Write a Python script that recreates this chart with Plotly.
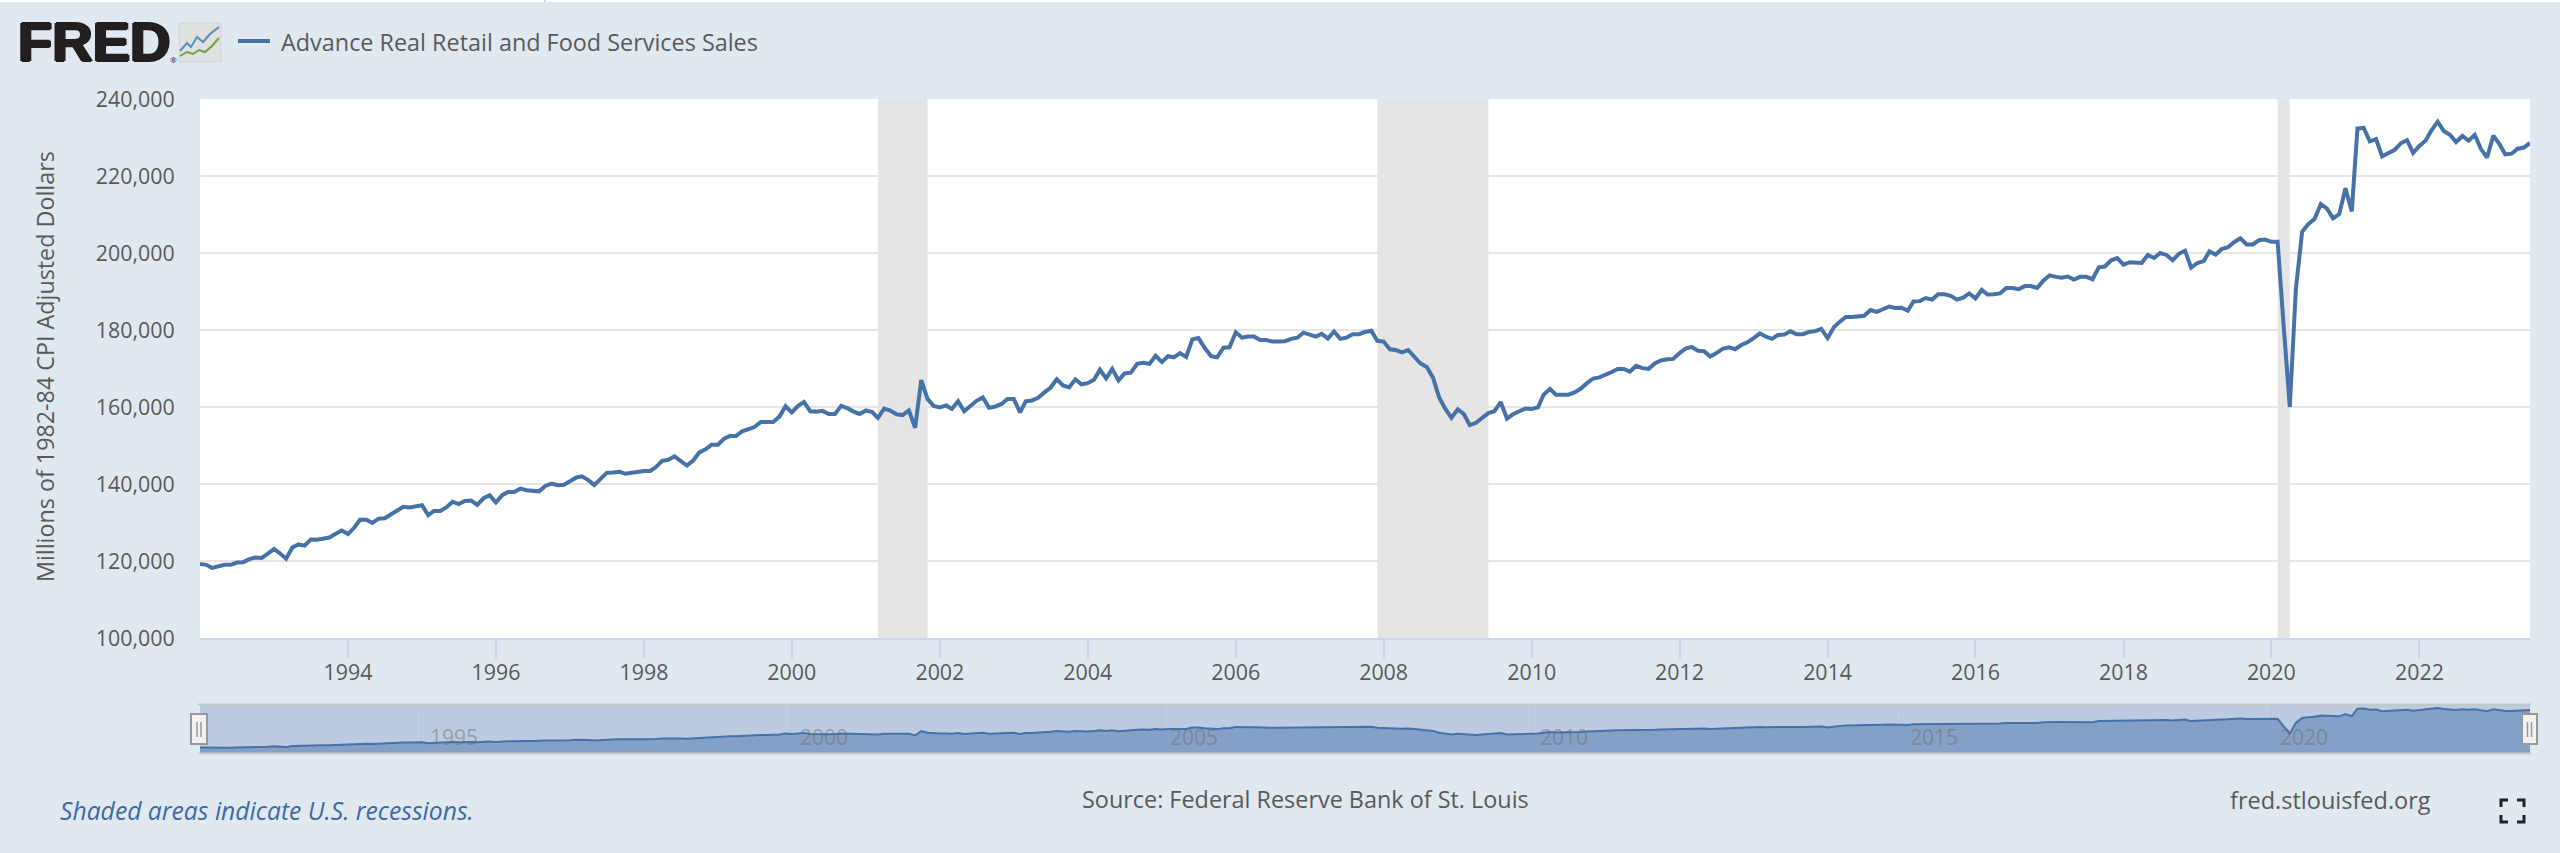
import pandas as pd
import plotly.graph_objects as go

W, H = 2560, 853

def px(x):
    return x / W

def py(y):
    return 1 - y / H

# Monthly values, millions of 1982-84 CPI adjusted dollars, thousands for brevity
sales_1992_1998 = [
    119.2, 119.0, 118.2, 118.6, 119.0, 119.0, 119.6, 119.7, 120.5, 120.9, 120.8, 121.9,
    123.1, 121.9, 120.6, 123.5, 124.3, 124.0, 125.6, 125.5, 125.9, 126.1, 127.1, 127.9,
    127.0, 128.7, 130.7, 130.7, 129.9, 131.0, 131.1, 132.2, 133.1, 134.1, 133.9, 134.3,
    134.5, 131.9, 133.0, 133.0, 133.9, 135.4, 134.8, 135.6, 135.7, 134.6, 136.3, 137.1,
    135.2, 137.1, 137.9, 137.9, 138.8, 138.4, 138.3, 138.1, 139.5, 140.1, 139.7, 139.8,
    140.7, 141.7, 142.0, 141.0, 139.7, 141.4, 142.9, 143.0, 143.2, 142.7, 142.9, 143.3,
    143.4, 143.4, 144.4, 146.0, 146.3, 147.2, 145.9, 144.8, 146.1, 148.2, 149.0, 150.2,
]
sales_1999_2005 = [
    150.2, 151.8, 152.5, 152.5, 153.7, 154.2, 154.8, 156.1, 156.1, 156.1, 157.5, 160.2,
    158.6, 160.3, 161.3, 158.9, 158.8, 159.0, 158.2, 158.2, 160.3, 159.7, 158.8, 158.2,
    159.1, 158.7, 157.2, 159.6, 159.1, 158.1, 157.9, 159.1, 154.6, 167.0, 162.1, 160.3,
    159.9, 160.4, 159.5, 161.5, 158.9, 160.2, 161.6, 162.5, 159.8, 160.1, 160.8, 162.1,
    162.1, 158.6, 161.5, 161.7, 162.4, 163.8, 165.0, 167.2, 165.6, 165.1, 167.2, 165.9,
    166.2, 167.1, 169.7, 167.4, 169.9, 166.9, 168.7, 168.9, 171.2, 171.5, 171.2, 173.3,
    171.7, 173.2, 172.9, 174.0, 173.0, 177.6, 177.9, 175.3, 173.2, 172.9, 175.4, 175.5,
]
sales_2006_2012 = [
    179.4, 178.0, 178.3, 178.3, 177.4, 177.4, 177.0, 177.0, 177.1, 177.7, 178.0, 179.3,
    178.9, 178.3, 179.0, 177.8, 179.6, 177.7, 178.0, 178.9, 178.9, 179.5, 179.8, 177.2,
    177.0, 175.0, 174.8, 174.2, 174.8, 173.1, 171.3, 170.4, 167.6, 162.5, 159.5, 157.2,
    159.4, 158.1, 155.3, 155.9, 157.1, 158.4, 158.9, 161.3, 157.0, 158.1, 158.9, 159.6,
    159.5, 159.9, 163.2, 164.7, 163.2, 163.1, 163.2, 163.8, 164.8, 166.2, 167.4, 167.7,
    168.3, 169.1, 169.9, 169.9, 169.2, 170.7, 170.1, 169.9, 171.3, 172.1, 172.4, 172.5,
    174.0, 175.2, 175.6, 174.6, 174.5, 173.1, 174.0, 175.1, 175.5, 175.0, 176.1, 176.8,
]
sales_2013_2019 = [
    177.9, 179.1, 178.3, 177.7, 178.7, 178.8, 179.7, 178.9, 178.9, 179.5, 179.7, 180.3,
    177.9, 180.7, 182.1, 183.4, 183.4, 183.6, 183.7, 185.2, 184.7, 185.4, 186.1, 185.7,
    185.8, 185.0, 187.4, 187.5, 188.3, 187.9, 189.3, 189.3, 188.9, 187.9, 188.4, 189.5,
    188.2, 190.4, 189.2, 189.3, 189.5, 190.9, 190.9, 190.6, 191.4, 191.4, 190.9, 192.8,
    194.2, 193.8, 193.6, 193.9, 193.1, 193.8, 193.8, 193.2, 196.3, 196.5, 198.1, 198.7,
    197.0, 197.6, 197.4, 197.4, 199.5, 198.7, 200.0, 199.5, 198.1, 199.8, 200.6, 196.2,
    197.4, 197.9, 200.4, 199.6, 201.0, 201.5, 202.8, 203.8, 202.2, 202.2, 203.3, 203.5,
]
sales_2020_2023 = [
    202.9, 202.9, 181.6, 160.0, 190.7, 205.5, 207.5, 208.8, 212.7, 211.6, 209.0, 210.1,
    216.8, 210.8, 232.3, 232.5, 229.0, 229.6, 225.1, 226.0, 226.8, 228.5, 229.3, 226.0,
    227.8, 229.2, 231.8, 234.1, 231.7, 230.7, 228.8, 230.4, 229.2, 230.7, 227.0, 224.8,
    230.5, 228.2, 225.6, 225.8, 227.1, 227.4, 228.6,
]
sales = [v * 1000 for v in sales_1992_1998 + sales_1999_2005 + sales_2006_2012 + sales_2013_2019 + sales_2020_2023]
dates = pd.date_range("1992-01-01", periods=len(sales), freq="MS")

recession_starts = ["2001-03-01", "2007-12-01", "2020-02-01"]
recession_ends = ["2001-11-01", "2009-06-01", "2020-04-01"]
y_ticks = [100000, 120000, 140000, 160000, 180000, 200000, 220000, 240000]
x_tick_years = ["1994", "1996", "1998", "2000", "2002", "2004", "2006", "2008",
                "2010", "2012", "2014", "2016", "2018", "2020", "2022"]
nav_years = ["1995", "2000", "2005", "2010", "2015", "2020"]
y_min, y_max = y_ticks[0], y_ticks[-1]
nav_min, nav_max = 103500, 243000

series_name = "Advance Real Retail and Food Services Sales"
y_title = "Millions of 1982-84 CPI Adjusted Dollars"

BG = "#e1e9f0"
LINE = "#4572a7"
TEXT = "#595959"
FONT = "Open Sans"

fig = go.Figure()
fig.add_trace(go.Scatter(x=dates, y=sales, mode="lines", name=series_name,
                         line=dict(color=LINE, width=4), xaxis="x", yaxis="y",
                         hovertemplate="%{x|%b %Y}: %{y:,.0f}<extra></extra>"))
fig.add_trace(go.Scatter(x=dates, y=sales, mode="lines", fill="tozeroy", fillcolor="#85a0c7",
                         line=dict(color=LINE, width=2), xaxis="x2", yaxis="y2", hoverinfo="skip"))

shapes = []

def paper_rect(x0, y0, x1, y1, fill, line=None, lw=0, layer="above"):
    shapes.append(dict(type="rect", xref="paper", yref="paper", x0=px(x0), x1=px(x1), y0=py(y0), y1=py(y1),
                       fillcolor=fill, line=dict(color=line or fill, width=lw), layer=layer))

def paper_path(points, color, lw):
    d = "M " + " L ".join(f"{px(x):.5f},{py(y):.5f}" for x, y in points)
    shapes.append(dict(type="path", xref="paper", yref="paper", path=d,
                       line=dict(color=color, width=lw), layer="above"))

# thin white strip at the very top of the page
paper_rect(0, 0, W, 2, "#ffffff")
paper_rect(544, 0, 546, 2, "#d9d9d9")

# recession bands
for a, b in zip(recession_starts, recession_ends):
    shapes.append(dict(type="rect", xref="x", yref="y", x0=a, x1=b, y0=y_min, y1=y_max,
                       fillcolor="#e5e5e5", line=dict(width=0), layer="between"))

# navigator background
shapes.append(dict(type="rect", xref="x2", yref="y2", x0=dates[0], x1=dates[-1], y0=nav_min, y1=nav_max,
                   fillcolor="#bccbe1", line=dict(width=0), layer="below"))
paper_path([(198, 704.5), (2531, 704.5)], "#c4c8cc", 2)
paper_path([(198, 753.5), (2531, 753.5)], "#c8cdd2", 2)

# navigator handles
for x0, x1 in [(191, 207), (2522, 2537)]:
    paper_rect(x0, 714, x1, 744, "#f2f2f2", "#999999", 2)
    mid = (x0 + x1) / 2
    paper_path([(mid - 2, 722), (mid - 2, 737)], "#999999", 1.5)
    paper_path([(mid + 2, 722), (mid + 2, 737)], "#999999", 1.5)

# legend key
paper_path([(238, 41), (270, 41)], LINE, 4)

# logo chart icon
shapes.append(dict(type="rect", xref="paper", yref="paper", x0=px(179), x1=px(221), y0=py(23), y1=py(62),
                   fillcolor="#dfe0e0", line=dict(color="#d3d5d6", width=1), layer="above"))
paper_path([(180, 51), (187, 43), (191, 47), (197, 37), (203, 42), (210, 34), (219, 27)], "#5a8fb5", 2)
paper_path([(180, 56), (187, 52), (193, 54), (199, 50), (205, 52), (212, 46), (219, 38)], "#6ea045", 2)

# full screen icon
for cx, cy, dx, dy in [(2501, 800, 1, 1), (2524, 800, -1, 1), (2501, 822, 1, -1), (2524, 822, -1, -1)]:
    paper_path([(cx + 7 * dx, cy), (cx, cy), (cx, cy + 7 * dy)], "#222222", 3)

def note(text, x, y, size=21, color=TEXT, anchor="left", angle=0, family=FONT, italic=False, bold=False, shadow=None):
    t = text
    if italic:
        t = f"<i>{t}</i>"
    if bold:
        t = f"<b>{t}</b>"
    font = dict(family=family, size=size, color=color)
    if shadow:
        font["shadow"] = shadow
    return dict(text=t, xref="paper", yref="paper", x=px(x), y=py(y), xanchor=anchor, yanchor="middle",
                showarrow=False, textangle=angle, font=font)

annotations = [
    note("FRED", 16, 42, size=56, color="#231f20", family="Liberation Sans", bold=True,
         shadow="1.5px 0 0 #231f20, -1.5px 0 0 #231f20, 0 1px 0 #231f20, 0 -1px 0 #231f20"),
    note("®", 168, 60, size=8, color="#231f20"),
    note(series_name, 279, 42, size=23.4),
    note(y_title, 45, 367, size=23.3, anchor="center", angle=-90),
    note("Shaded areas indicate U.S. recessions.", 58, 810, size=24.7, color="#3e6aa3", italic=True),
    note("Source: Federal Reserve Bank of St. Louis", 1305, 799, size=23.4, anchor="center"),
    note("fred.stlouisfed.org", 2228, 800, size=23.5),
]
for year in nav_years:
    annotations.append(dict(text=year, xref="x2", yref="paper", x=f"{year}-02-01", y=py(737), xanchor="left",
                            yanchor="middle", showarrow=False,
                            font=dict(family=FONT, size=21, color="rgba(110,110,110,0.5)")))

x_range = [dates[0], dates[-1]]

fig.update_layout(
    width=W, height=H, autosize=False,
    margin=dict(l=0, r=0, t=0, b=0, pad=0, autoexpand=False),
    paper_bgcolor=BG, plot_bgcolor="#ffffff",
    showlegend=False,
    font=dict(family=FONT, color=TEXT, size=21),
    shapes=shapes, annotations=annotations,
    xaxis=dict(domain=[px(200), px(2530)], anchor="y", type="date", range=x_range,
               tickvals=[f"{y}-01-01" for y in x_tick_years], ticktext=x_tick_years,
               ticks="outside", ticklen=18, tickwidth=2, ticklabelstandoff=-4,
               tickcolor="#ccd6eb", showgrid=False, showline=True, linecolor="#ccd6eb", linewidth=2,
               zeroline=False, tickfont=dict(family=FONT, size=21.4, color=TEXT)),
    yaxis=dict(domain=[py(638), py(99)], anchor="x", range=[y_min, y_max], tickvals=y_ticks,
               tickformat=",d", ticks="outside", ticklen=20, tickcolor="rgba(0,0,0,0)", tickwidth=1,
               showgrid=True, gridcolor="#e6e6e6", gridwidth=2, zeroline=False, showline=False,
               tickfont=dict(family=FONT, size=21.4, color=TEXT)),
    xaxis2=dict(domain=[px(200), px(2530)], anchor="y2", type="date", range=x_range,
                tick0="1995-01-01", dtick="M60", showticklabels=False, ticks="",
                showgrid=True, gridcolor="rgba(150,165,190,0.18)", gridwidth=1, zeroline=False, showline=False),
    yaxis2=dict(domain=[py(753), py(705)], anchor="x2", range=[nav_min, nav_max], showticklabels=False,
                ticks="", showgrid=False, zeroline=False, showline=False),
)

fig.write_html("out.html", config=dict(displayModeBar=False),
               post_script="document.body.style.margin='0';document.body.style.overflow='hidden';")
